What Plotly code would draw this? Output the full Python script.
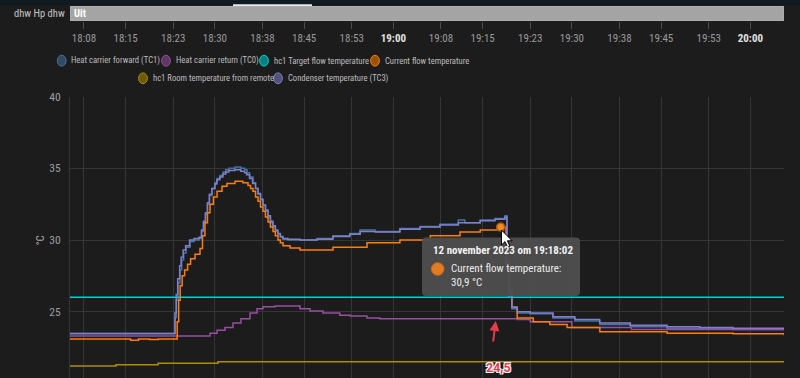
import plotly.graph_objects as go

DAY = "2023-11-12 "
T_START = "18:05:39"
T_END = "20:05:39"

# ---- series data (time, value) ----
tc1_t = ["18:05:39","18:23:08","18:23:20","18:23:32","18:23:48","18:24:08","18:24:25","18:24:45","18:25:09",
         "18:25:49","18:26:30","18:27:20","18:27:45","18:28:05","18:28:25","18:28:45","18:29:05","18:29:30",
         "18:30:00","18:30:22","18:30:50","18:31:22","18:31:50","18:32:22","18:33:23","18:34:23","18:35:00",
         "18:35:24","18:35:50","18:36:24","18:36:50","18:37:15","18:37:40","18:38:05","18:38:30","18:38:56",
         "18:39:20","18:39:46","18:40:10","18:40:36","18:41:00","18:41:27","18:42:17","18:44:18",
         "18:47:10","18:49:51","18:52:43","18:54:24","18:56:54","19:01:06","19:04:30","19:07:48","19:10:54",
         "19:12:00","19:14:36","19:17:06","19:18:46","19:19:06","19:19:24","19:19:54","19:20:48","19:22:58",
         "19:26:48","19:30:30","19:34:42","19:39:48","19:46:00","19:51:30","19:57:06","20:05:39"]
tc1_v = [23.5,23.5,24.6,25.8,27.0,27.9,28.6,29.1,29.5,
         29.9,30.0,30.1,30.6,31.2,31.8,32.5,33.1,33.6,
         34.0,34.3,34.5,34.75,34.9,35.0,35.1,35.0,34.9,
         34.7,34.4,34.0,33.6,33.2,32.8,32.4,32.0,31.6,
         31.2,30.9,30.6,30.4,30.2,30.05,30.0,30.0,
         30.1,30.3,30.45,30.7,30.6,30.8,30.95,31.1,31.4,
         31.2,31.4,31.5,31.7,28.0,26.0,25.2,24.9,24.85,
         24.55,24.35,24.1,23.95,23.85,23.8,23.75,23.7]

tc0_t = ["18:05:39","18:29:11","18:30:22","18:31:42","18:33:03","18:34:23","18:35:54","18:37:05","18:38:05",
         "18:40:06","18:44:18","18:45:59","18:48:10","18:51:00","18:52:43","18:55:34","18:57:45","19:20:48",
         "19:23:00","19:30:00","19:40:00","20:05:39"]
tc0_v = [23.3,23.5,23.7,23.9,24.2,24.5,24.9,25.2,25.35,
         25.4,25.2,25.05,24.9,24.75,24.7,24.55,24.5,24.45,
         24.3,23.9,23.75,23.7]

target_t = ["18:05:39","20:05:39"]
target_v = [26.0,26.0]

flow_t = ["18:05:39","18:15:50","18:17:10","18:19:00","18:20:30","18:23:40","18:23:55","18:24:10","18:24:30",
          "18:24:55","18:25:25","18:25:55","18:26:40","18:27:30","18:27:55","18:28:20","18:28:45","18:29:11",
          "18:29:45","18:30:22","18:31:12","18:32:02","18:33:23","18:34:42","18:35:34","18:36:00","18:36:24",
          "18:36:50","18:37:15","18:37:40","18:38:05","18:38:30","18:38:56","18:39:20","18:39:46","18:40:10",
          "18:40:36","18:41:00","18:41:27","18:42:38","18:44:18","18:49:51","18:55:34","19:01:06","19:06:12",
          "19:11:12","19:14:36","19:17:30","19:18:56","19:19:26","19:19:54","19:20:48","19:23:30","19:26:18",
          "19:29:12","19:34:42","19:46:00","19:57:06","20:05:39"]
flow_v = [23.1,23.0,23.1,23.05,23.1,24.3,25.8,26.8,27.5,
          27.9,28.3,28.7,29.0,29.4,30.3,31.2,31.9,32.5,
          33.0,33.4,33.75,33.95,34.1,34.0,33.8,33.6,33.4,
          33.0,32.7,32.3,32.0,31.6,31.25,30.9,30.6,30.3,
          30.0,29.8,29.6,29.45,29.3,29.5,29.8,30.0,30.3,
          30.55,30.7,30.9,28.0,26.5,25.3,24.55,24.3,24.1,
          23.9,23.6,23.5,23.45,23.35]

room_t = ["18:05:39","18:13:23","18:20:27","18:30:31","20:05:39"]
room_v = [21.2,21.3,21.4,21.5,21.5]

tc3_t = ["18:05:39","18:23:05","18:23:17","18:23:30","18:23:45","18:24:05","18:24:20","18:24:40","18:25:05",
         "18:25:45","18:26:30","18:27:20","18:27:45","18:28:05","18:28:25","18:28:45","18:29:05","18:29:30",
         "18:30:00","18:30:20","18:30:50","18:31:20","18:31:50","18:32:20","18:33:20","18:34:20","18:35:00",
         "18:35:20","18:35:50","18:36:20","18:36:50","18:37:15","18:37:40","18:38:05","18:38:30","18:38:55",
         "18:39:20","18:39:45","18:40:10","18:40:35","18:41:00","18:41:25","18:42:15","18:44:20",
         "18:47:10","18:49:50","18:52:40","18:54:25","18:57:00","19:01:05","19:04:30","19:07:50","19:10:55",
         "19:14:35","19:17:05","19:18:45","19:19:05","19:19:25","19:19:55","19:20:50","19:23:00","19:26:50",
         "19:30:30","19:34:40","19:39:50","19:46:00","19:51:30","19:57:05","20:05:39"]
tc3_v = [23.45,23.45,24.9,26.2,27.3,28.2,28.8,29.3,29.6,
         30.0,30.1,30.2,30.7,31.3,31.9,32.6,33.2,33.6,
         33.9,34.2,34.4,34.6,34.75,34.85,34.9,34.8,34.7,
         34.55,34.3,33.95,33.6,33.25,32.85,32.45,32.1,31.7,
         31.3,31.0,30.7,30.45,30.25,30.1,30.05,30.0,
         30.05,30.25,30.4,30.6,30.55,30.75,30.9,31.05,31.2,
         31.35,31.45,31.6,28.5,26.3,25.3,25.0,24.9,24.65,
         24.45,24.2,24.05,23.95,23.9,23.85,23.8]

hover_t = "19:18:02"
hover_v = 30.9

series_names = ["Heat carrier forward (TC1)", "Heat carrier return (TC0)", "hc1 Target flow temperature",
                "Current flow temperature", "hc1 Room temperature from remote", "Condenser temperature (TC3)"]
series_colors = ["#44739e", "#984ea3", "#00d2d5", "#ff7f00", "#af8d00", "#7f80cd"]

tick_times = ["18:08","18:15","18:23","18:30","18:38","18:45","18:53","19:00",
              "19:08","19:15","19:23","19:30","19:38","19:45","19:53","20:00"]
bold_ticks = ["19:00", "20:00"]
y_ticks = [25, 30, 35, 40]

# ---- layout geometry (pixels) ----
W, H = 800, 378
PL, PR = 70, 784
PT = 96.7
Y_TOP = 40
Y_BOT = 40 - (H - PT) / 14.33

def px(x):
    return (x - PL) / (PR - PL)

def py(y):
    return (H - y) / H

FONT = "Liberation Sans Narrow, Roboto Condensed, DejaVu Sans Condensed, Roboto, sans-serif"
BG = "#1c1c1c"
GRID = "#363636"

def dt(lst):
    return [DAY + t for t in lst]

fig = go.Figure()
all_series = [(tc1_t, tc1_v), (tc0_t, tc0_v), (target_t, target_v),
              (flow_t, flow_v), (room_t, room_v), (tc3_t, tc3_v)]
for (ts, vs), name, col in zip(all_series, series_names, series_colors):
    fig.add_trace(go.Scatter(x=dt(ts), y=vs, name=name, mode="lines",
                             line=dict(color=col, width=1.5, shape="hv"),
                             showlegend=False, hoverinfo="skip"))

fig.add_trace(go.Scatter(x=[DAY + hover_t], y=[hover_v], mode="markers",
                         marker=dict(color="#f08a24", size=8, line=dict(color="#a85a10", width=1.5)),
                         showlegend=False, hoverinfo="skip"))

# timeline state bar (dhw Hp dhw: Uit over whole range)
fig.add_trace(go.Scatter(x=[DAY + T_START, DAY + T_END, DAY + T_END, DAY + T_START, DAY + T_START],
                         y=[0, 0, 1, 1, 0], xaxis="x2", yaxis="y2", mode="lines",
                         fill="toself", fillcolor="#a4a4a4", line=dict(color="#b4b4b4", width=1),
                         showlegend=False, hoverinfo="skip"))

ticktext = []
for t in tick_times:
    if t in bold_ticks:
        ticktext.append("<b><span style='color:#e2e2e2'>" + t + "</span></b>")
    else:
        ticktext.append(t)

fig.update_layout(
    width=W, height=H,
    margin=dict(l=PL, r=W - PR, t=0, b=0, pad=0, autoexpand=False),
    paper_bgcolor=BG, plot_bgcolor=BG,
    font=dict(family=FONT, color="#a0a0a0", size=11),
    xaxis=dict(type="date", range=[DAY + T_START, DAY + T_END], tickvals=dt(tick_times),
               showticklabels=False, showgrid=True, gridcolor=GRID, gridwidth=1,
               zeroline=False, showline=False, ticks="", anchor="y", automargin=False),
    yaxis=dict(domain=[0, py(PT)], range=[Y_BOT, Y_TOP], tickvals=y_ticks,
               ticktext=[str(v) for v in y_ticks], showgrid=True, gridcolor=GRID,
               zeroline=False, showline=True, linecolor=GRID, ticks="", automargin=False,
               ticklabelstandoff=6, tickfont=dict(size=11.5, color="#9e9e9e")),
    xaxis2=dict(type="date", range=[DAY + T_START, DAY + T_END], tickvals=dt(tick_times),
                ticktext=ticktext, anchor="y2", showgrid=False, zeroline=False, automargin=False,
                ticks="outside", ticklen=7, tickcolor="#4a4a4a", tickwidth=1,
                tickfont=dict(size=11, color="#9a9a9a"), showline=False),
    yaxis2=dict(domain=[py(21), py(6)], range=[0, 1], visible=False, automargin=False),
    showlegend=False,
)

shapes = []
# top navy strip & white indicator
shapes.append(dict(type="rect", xref="paper", yref="paper", x0=px(0), x1=px(W), y0=py(5), y1=py(0),
                   fillcolor="#0f1b21", line=dict(width=0), layer="below"))
shapes.append(dict(type="rect", xref="paper", yref="paper", x0=px(233), x1=px(312), y0=py(6), y1=py(4.3),
                   fillcolor="#e8e8e8", line=dict(width=0)))

# manual legend
legend_items = [
    (0, 61.7, 60.7), (1, 166, 60.7), (2, 264, 60.7), (3, 375, 60.7),
    (4, 143, 78.3), (5, 278, 78.3),
]
annotations = []

def hex_rgba(h, a):
    h = h.lstrip("#")
    return "rgba(%d,%d,%d,%s)" % (int(h[0:2], 16), int(h[2:4], 16), int(h[4:6], 16), a)

for idx, cx, cy in legend_items:
    col = series_colors[idx]
    shapes.append(dict(type="circle", xref="paper", yref="paper", xsizemode="pixel", ysizemode="pixel",
                       xanchor=px(cx), yanchor=py(cy), x0=-4.4, x1=4.4, y0=-5.4, y1=5.4,
                       fillcolor=hex_rgba(col, 0.55), line=dict(color=col, width=1)))
    annotations.append(dict(xref="paper", yref="paper", x=px(cx + 7.5), y=py(cy), xanchor="left",
                            yanchor="middle", showarrow=False, text=series_names[idx],
                            font=dict(size=8.6, color="#bdbdbd", family=FONT)))

# timeline label texts
annotations.append(dict(xref="paper", yref="paper", x=px(66.5), y=py(13.5), xanchor="right", yanchor="middle",
                        showarrow=False, text="dhw Hp dhw", font=dict(size=10.5, color="#c4c4c4")))
annotations.append(dict(xref="paper", yref="paper", x=px(72), y=py(13.5), xanchor="left", yanchor="middle",
                        showarrow=False, text="<b>Uit</b>", font=dict(size=10.5, color="#ffffff")))

# y axis title
annotations.append(dict(xref="paper", yref="paper", x=px(39.5), y=py(241), xanchor="center", yanchor="middle",
                        showarrow=False, text="°C", textangle=-90, font=dict(size=11, color="#a8a8a8")))

# tooltip box (rounded)
def rrect(x0, y0, x1, y1, r):
    return ("M %f,%f L %f,%f Q %f,%f %f,%f L %f,%f Q %f,%f %f,%f L %f,%f Q %f,%f %f,%f L %f,%f Q %f,%f %f,%f Z" % (
        px(x0 + r), py(y0), px(x1 - r), py(y0), px(x1), py(y0), px(x1), py(y0 + r),
        px(x1), py(y1 - r), px(x1), py(y1), px(x1 - r), py(y1),
        px(x0 + r), py(y1), px(x0), py(y1), px(x0), py(y1 - r),
        px(x0), py(y0 + r), px(x0), py(y0), px(x0 + r), py(y0)))

shapes.append(dict(type="path", xref="paper", yref="paper", path=rrect(422, 237.5, 580, 296, 4),
                   fillcolor="rgba(78,78,78,0.95)", line=dict(width=0)))
shapes.append(dict(type="circle", xref="paper", yref="paper", xsizemode="pixel", ysizemode="pixel",
                   xanchor=px(437.7), yanchor=py(269), x0=-6.3, x1=6.3, y0=-6.3, y1=6.3,
                   fillcolor="#e07b22", line=dict(color="#c96a18", width=1)))
annotations.append(dict(xref="paper", yref="paper", x=px(430.5), y=py(251), xanchor="left", yanchor="middle",
                        showarrow=False, text="<b>12 november 2023 om 19:18:02</b>",
                        font=dict(size=11, color="#f2f2f2")))
annotations.append(dict(xref="paper", yref="paper", x=px(449), y=py(268.5), xanchor="left", yanchor="middle",
                        showarrow=False, text="Current flow temperature:",
                        font=dict(size=11, color="#ececec")))
annotations.append(dict(xref="paper", yref="paper", x=px(449), y=py(282), xanchor="left", yanchor="middle",
                        showarrow=False, text="30,9 °C",
                        font=dict(size=11, color="#ececec")))

# mouse cursor
cur = [(0, 0), (0, 15), (3.5, 11.6), (6, 17), (8.3, 16), (5.9, 10.8), (10.6, 10.8)]
cx0, cy0 = 501.5, 230
path = "M " + " L ".join("%f,%f" % (px(cx0 + a), py(cy0 + b)) for a, b in cur) + " Z"
shapes.append(dict(type="path", xref="paper", yref="paper", path=path,
                   fillcolor="#ffffff", line=dict(color="#000000", width=1)))

# red arrow and label
annotations.append(dict(xref="paper", yref="paper", x=px(495.7), y=py(321), ax=-2.7, ay=22,
                        showarrow=True, arrowhead=2, arrowsize=1, arrowwidth=2, arrowcolor="#e8394d",
                        text=""))
annotations.append(dict(xref="paper", yref="paper", x=px(498), y=py(367), xanchor="center", yanchor="middle",
                        showarrow=False, text="<b>24,5</b>",
                        font=dict(size=12.5, color="#e8394d", family="Roboto, sans-serif",
                                  shadow="1px 1px 0 #fff, -1px -1px 0 #fff, 1px -1px 0 #fff, -1px 1px 0 #fff")))

fig.update_layout(shapes=shapes, annotations=annotations)
fig.write_html("out.html")
